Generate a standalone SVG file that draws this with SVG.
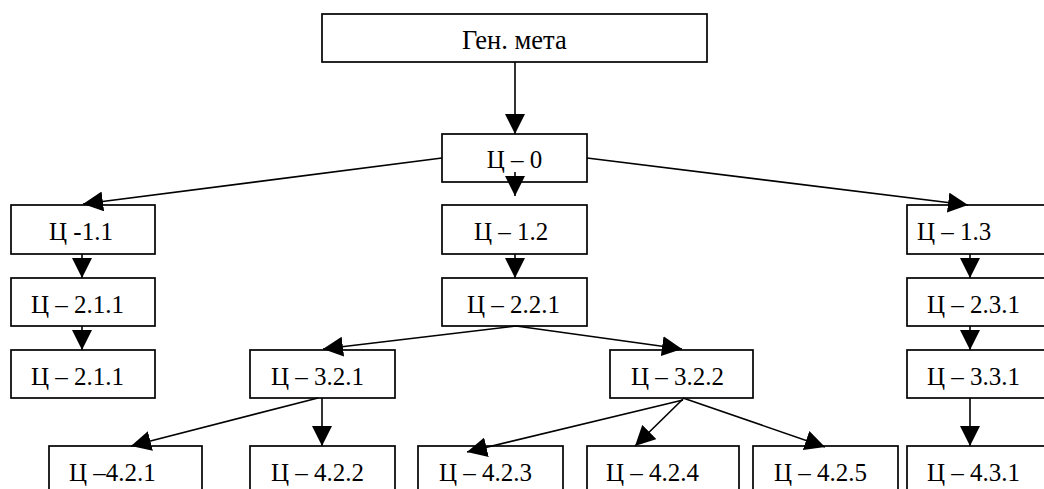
<svg xmlns="http://www.w3.org/2000/svg" width="1044" height="489" viewBox="0 0 1044 489">
<defs>
<marker id="ah" markerUnits="userSpaceOnUse" markerWidth="20" markerHeight="20" viewBox="0 0 20 20" refX="20" refY="10" orient="auto">
<path d="M0,0 L20,10 L0,20 Z" fill="#000"/>
</marker>
<style>
.box{fill:#fff;stroke:#000;stroke-width:1.7}
.t{font-family:"Liberation Serif","Times New Roman",serif;font-size:25px;fill:#000}
.g{font-size:26.5px}
.c{stroke:#000;stroke-width:1.6;fill:none;marker-end:url(#ah)}
</style>
</defs>
<rect width="1044" height="489" fill="#fff"/>
<g id="nodes">
<g id="gen"><rect class="box" x="322" y="14" width="385" height="48"/><text class="t g" x="462" y="49">Ген. мета</text></g>
<g id="c0"><rect class="box" x="442" y="134" width="145" height="48"/><text class="t" x="514.5" y="168" text-anchor="middle">Ц – 0</text></g>
<g id="c11"><rect class="box" x="11" y="205" width="144" height="49"/><text class="t" x="49" y="240">Ц -1.1</text></g>
<g id="c12"><rect class="box" x="442" y="205" width="145" height="49"/><text class="t" x="474" y="240">Ц – 1.2</text></g>
<g id="c13"><rect class="box" x="907" y="205" width="145" height="49"/><text class="t" x="917" y="240">Ц – 1.3</text></g>
<g id="c211a"><rect class="box" x="11" y="278" width="144" height="48"/><text class="t" x="31" y="313">Ц – 2.1.1</text></g>
<g id="c221"><rect class="box" x="442" y="278" width="145" height="48"/><text class="t" x="467" y="313">Ц – 2.2.1</text></g>
<g id="c231"><rect class="box" x="907" y="278" width="145" height="48"/><text class="t" x="927" y="313">Ц – 2.3.1</text></g>
<g id="c211b"><rect class="box" x="11" y="350" width="144" height="48"/><text class="t" x="31" y="385">Ц – 2.1.1</text></g>
<g id="c321"><rect class="box" x="250" y="350" width="145" height="48"/><text class="t" x="271" y="385">Ц – 3.2.1</text></g>
<g id="c322"><rect class="box" x="610" y="350" width="143" height="48"/><text class="t" x="631" y="385">Ц – 3.2.2</text></g>
<g id="c331"><rect class="box" x="907" y="350" width="145" height="48"/><text class="t" x="927" y="385">Ц – 3.3.1</text></g>
<g id="c421"><rect class="box" x="49" y="446" width="153" height="48"/><text class="t" x="69" y="481">Ц –4.2.1</text></g>
<g id="c422"><rect class="box" x="250" y="446" width="145" height="48"/><text class="t" x="271" y="481">Ц – 4.2.2</text></g>
<g id="c423"><rect class="box" x="418" y="446" width="145" height="48"/><text class="t" x="439" y="481">Ц – 4.2.3</text></g>
<g id="c424"><rect class="box" x="587" y="446" width="152" height="48"/><text class="t" x="606" y="481">Ц – 4.2.4</text></g>
<g id="c425"><rect class="box" x="753" y="446" width="145" height="48"/><text class="t" x="774" y="481">Ц – 4.2.5</text></g>
<g id="c431"><rect class="box" x="907" y="446" width="145" height="48"/><text class="t" x="927" y="481">Ц – 4.3.1</text></g>
</g>
<g id="connectors">
<line class="c" x1="515" y1="62" x2="515" y2="134"/>
<line class="c" x1="442" y1="158" x2="83" y2="204"/>
<line class="c" x1="515" y1="172" x2="515" y2="196"/>
<line class="c" x1="587" y1="158" x2="968" y2="205"/>
<line class="c" x1="82" y1="254" x2="82" y2="278"/>
<line class="c" x1="82" y1="326" x2="82" y2="350"/>
<line class="c" x1="515" y1="254" x2="515" y2="278"/>
<line class="c" x1="516" y1="326" x2="323" y2="349"/>
<line class="c" x1="516" y1="326" x2="682" y2="349"/>
<line class="c" x1="318" y1="398" x2="131" y2="446"/>
<line class="c" x1="322" y1="398" x2="322" y2="446"/>
<line class="c" x1="683" y1="400" x2="467" y2="452"/>
<line class="c" x1="683" y1="399" x2="635" y2="446"/>
<line class="c" x1="683" y1="398" x2="825" y2="447"/>
<line class="c" x1="970" y1="254" x2="970" y2="278"/>
<line class="c" x1="970" y1="326" x2="970" y2="350"/>
<line class="c" x1="970" y1="398" x2="970" y2="446"/>
</g>
</svg>
